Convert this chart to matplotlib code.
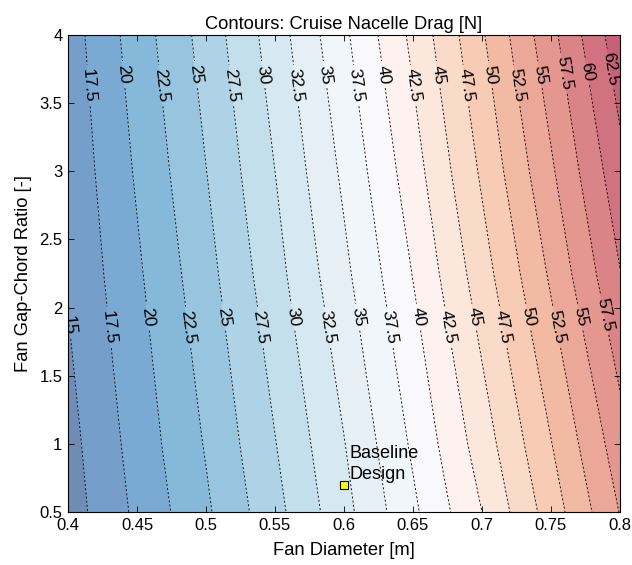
import numpy as np
import matplotlib
matplotlib.use("Agg")
import matplotlib.pyplot as plt

plt.rcParams['font.family'] = ['Liberation Sans', 'DejaVu Sans']

# ---- data ----
fan_diameter = [0.40, 0.45, 0.50, 0.55, 0.60, 0.65, 0.70, 0.75, 0.80]
gap_chord = [0.5, 1.0, 2.25, 3.0, 4.0]
drag_y050 = [13.8, 18.0, 22.1, 26.7, 31.7, 37.0, 42.5, 48.7, 55.1]
drag_y100 = [14.15, 18.5, 22.7, 27.4, 32.4, 37.9, 43.7, 49.9, 56.4]
drag_y225 = [15.25, 19.6, 24.1, 29.1, 34.4, 40.1, 46.4, 52.9, 59.9]
drag_y300 = [15.7, 20.3, 24.95, 30.0, 35.5, 41.4, 47.9, 54.6, 61.7]
drag_y400 = [16.3, 21.2, 26.0, 31.25, 37.0, 43.1, 49.7, 56.75, 64.1]
line_levels = [15, 17.5, 20, 22.5, 25, 27.5, 30, 32.5, 35, 37.5, 40, 42.5,
               45, 47.5, 50, 52.5, 55, 57.5, 60, 62.5]
fill_levels = [12.5] + line_levels + [65]
baseline_x = [0.6]
baseline_y = [0.7]
xticks = [0.4, 0.45, 0.5, 0.55, 0.6, 0.65, 0.7, 0.75, 0.8]
xticklabels = ['0.4', '0.45', '0.5', '0.55', '0.6', '0.65', '0.7', '0.75', '0.8']
yticks = [0.5, 1, 1.5, 2, 2.5, 3, 3.5, 4]
yticklabels = ['0.5', '1', '1.5', '2', '2.5', '3', '3.5', '4']

band_colors = ['#6F8CB4', '#759FCA', '#7AAAD3', '#85B8D9', '#97C5E0', '#AED3E6',
               '#C4DFEC', '#D6E8F1', '#E6EFF6', '#F1F6FA', '#F9F8FA', '#FDF2EF',
               '#FCE7DD', '#FADBCA', '#F7CBB4', '#F2BAA3', '#EBA898', '#E4978F',
               '#DB8487', '#D0727F', '#C5627A']

X, Y = np.meshgrid(fan_diameter, gap_chord)
Z = np.array([drag_y050, drag_y100, drag_y225, drag_y300, drag_y400])

fig = plt.figure(figsize=(6.32, 5.65), dpi=100)
ax = fig.add_axes([0.1076, 0.0938, 0.8734, 0.8442])

ax.contourf(X, Y, Z, levels=fill_levels, colors=band_colors)
cs = ax.contour(X, Y, Z, levels=line_levels, colors='black', linewidths=0.6,
                linestyles=[(0, (2.5, 2.5))])


def crossing(idx, yrow):
    best = None
    for seg in cs.allsegs[idx]:
        ys = seg[:, 1]
        for k in range(len(seg) - 1):
            y0, y1 = ys[k], ys[k + 1]
            if (y0 - yrow) * (y1 - yrow) <= 0 and y0 != y1:
                t = (yrow - y0) / (y1 - y0)
                return (seg[k, 0] + t * (seg[k + 1, 0] - seg[k, 0]), yrow)
        d = np.abs(ys - yrow)
        j = int(np.argmin(d))
        if best is None or d[j] < best[0]:
            best = (d[j], (seg[j, 0], seg[j, 1]))
    return best[1] if best else None


# label rows (layout): short labels sit a bit higher than long ones
top_override = {57.5: 3.72, 60: 3.73, 62.5: 3.75}
bot_override = {15: 1.87, 57.5: 1.95}

positions = []
for i, lev in enumerate(line_levels):
    short = float(lev).is_integer()
    if lev >= 17.5:
        yr = top_override.get(lev, 3.71 if short else 3.63)
        p = crossing(i, yr)
        if p is not None:
            positions.append(p)
    if lev <= 57.5:
        yr = bot_override.get(lev, 1.93 if short else 1.855)
        p = crossing(i, yr)
        if p is not None:
            positions.append(p)

ax.clabel(cs, manual=positions, inline=True, inline_spacing=4, fontsize=12.5,
          fmt=lambda v: ('%g' % v))

ax.plot(baseline_x, baseline_y, 's', ms=5.5, mfc='#FFFF00', mec='black', mew=0.8)
ax.text(baseline_x[0] + 0.004, baseline_y[0] + 0.015, 'Baseline\nDesign',
        ha='left', va='bottom', fontsize=13, linespacing=1.25)

ax.set_xlim(0.4, 0.8)
ax.set_ylim(0.5, 4)
ax.set_xticks(xticks)
ax.set_xticklabels(xticklabels)
ax.set_yticks(yticks)
ax.set_yticklabels(yticklabels)
ax.tick_params(direction='in', top=True, right=True, length=4, width=0.6,
               labelsize=12, pad=4)
for s in ax.spines.values():
    s.set_linewidth(0.8)
ax.set_xlabel('Fan Diameter [m]', fontsize=13.2, labelpad=7)
ax.set_ylabel('Fan Gap-Chord Ratio [-]', fontsize=13.2, labelpad=5)
ax.set_title('Contours: Cruise Nacelle Drag [N]', fontsize=13.2, pad=4)

fig.savefig('out.png', dpi=100)
